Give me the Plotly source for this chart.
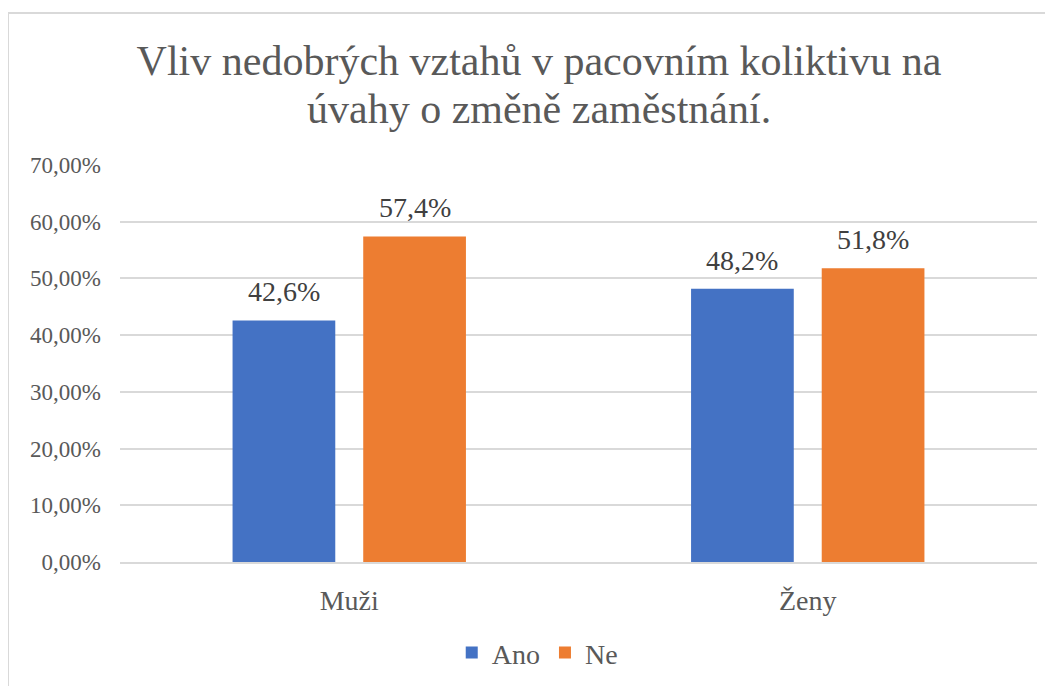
import plotly.graph_objects as go

categories = ["Muži", "Ženy"]
ano_values = [0.426, 0.482]
ne_values = [0.574, 0.518]
series_names = ["Ano", "Ne"]
title_line1 = "Vliv nedobrých vztahů v pacovním koliktivu na"
title_line2 = "úvahy o změně zaměstnání."
y_tick_values = [0, 0.1, 0.2, 0.3, 0.4, 0.5, 0.6, 0.7]

FONT = "'Liberation Serif', Tinos, 'Times New Roman', Times, 'DejaVu Serif', serif"
BLUE = "#4472C4"
ORANGE = "#ED7D31"
GRID = "#D9D9D9"

BARGAP = 0.43
BARGROUPGAP = 0.214
# centre offsets of the two bars inside a category (in category units)
slot = (1 - BARGAP) / 2
offsets = [-slot / 2, slot / 2]

fig = go.Figure()
annotations = []
for k, (name, vals, col) in enumerate([(series_names[0], ano_values, BLUE),
                                        (series_names[1], ne_values, ORANGE)]):
    fig.add_trace(go.Bar(
        x=categories, y=vals, name=name,
        marker=dict(color=col, line=dict(width=0)),
    ))
    for j, v in enumerate(vals):
        annotations.append(dict(
            x=j + offsets[k], y=v, xref="x", yref="y",
            text=f"{v*100:.1f}%".replace(".", ","),
            showarrow=False, yanchor="bottom", yshift=11,
            font=dict(family=FONT, size=28, color="#404040"),
        ))

annotations.append(dict(
    text=title_line2, x=0.457, xref="paper", xanchor="center",
    y=(554 - 101) / 397, yref="paper", yanchor="middle", showarrow=False,
    font=dict(family=FONT, size=42, color="#595959"),
))

fig.update_layout(
    width=1053, height=686,
    margin=dict(l=112, r=24, t=157, b=132),
    paper_bgcolor="white", plot_bgcolor="white",
    separators=",.",
    barmode="group", bargap=BARGAP, bargroupgap=BARGROUPGAP,
    title=dict(text=title_line1, x=531 / 1053, xref="container", xanchor="center",
               y=(686 - 52) / 686, yref="container", yanchor="middle",
               font=dict(family=FONT, size=42, color="#595959")),
    font=dict(family=FONT, color="#595959"),
    showlegend=True,
    legend=dict(orientation="h", x=0.455, xanchor="center", y=-0.229, yanchor="middle",
                font=dict(family=FONT, size=28, color="#595959"),
                traceorder="normal"),
    yaxis=dict(range=[0, 0.7], tickvals=y_tick_values, tickformat=".2%",
               showgrid=True, gridcolor=GRID, gridwidth=1.5,
               zeroline=False, showline=False,
               tickfont=dict(family=FONT, size=23, color="#595959"),
               ticklabelstandoff=18),
    xaxis=dict(showgrid=False, showline=True, linecolor=GRID, linewidth=1.5,
               tickfont=dict(family=FONT, size=28, color="#595959"),
               ticklabelstandoff=13),
    annotations=annotations,
    shapes=[dict(type="rect", xref="paper", yref="paper",
                 x0=(0 - 112) / 917, x1=(1080 - 112) / 917,
                 y0=(554 - 700) / 397, y1=(554 - 5) / 397,
                 line=dict(color=GRID, width=2), layer="below")],
)

fig.write_html("out.html")
